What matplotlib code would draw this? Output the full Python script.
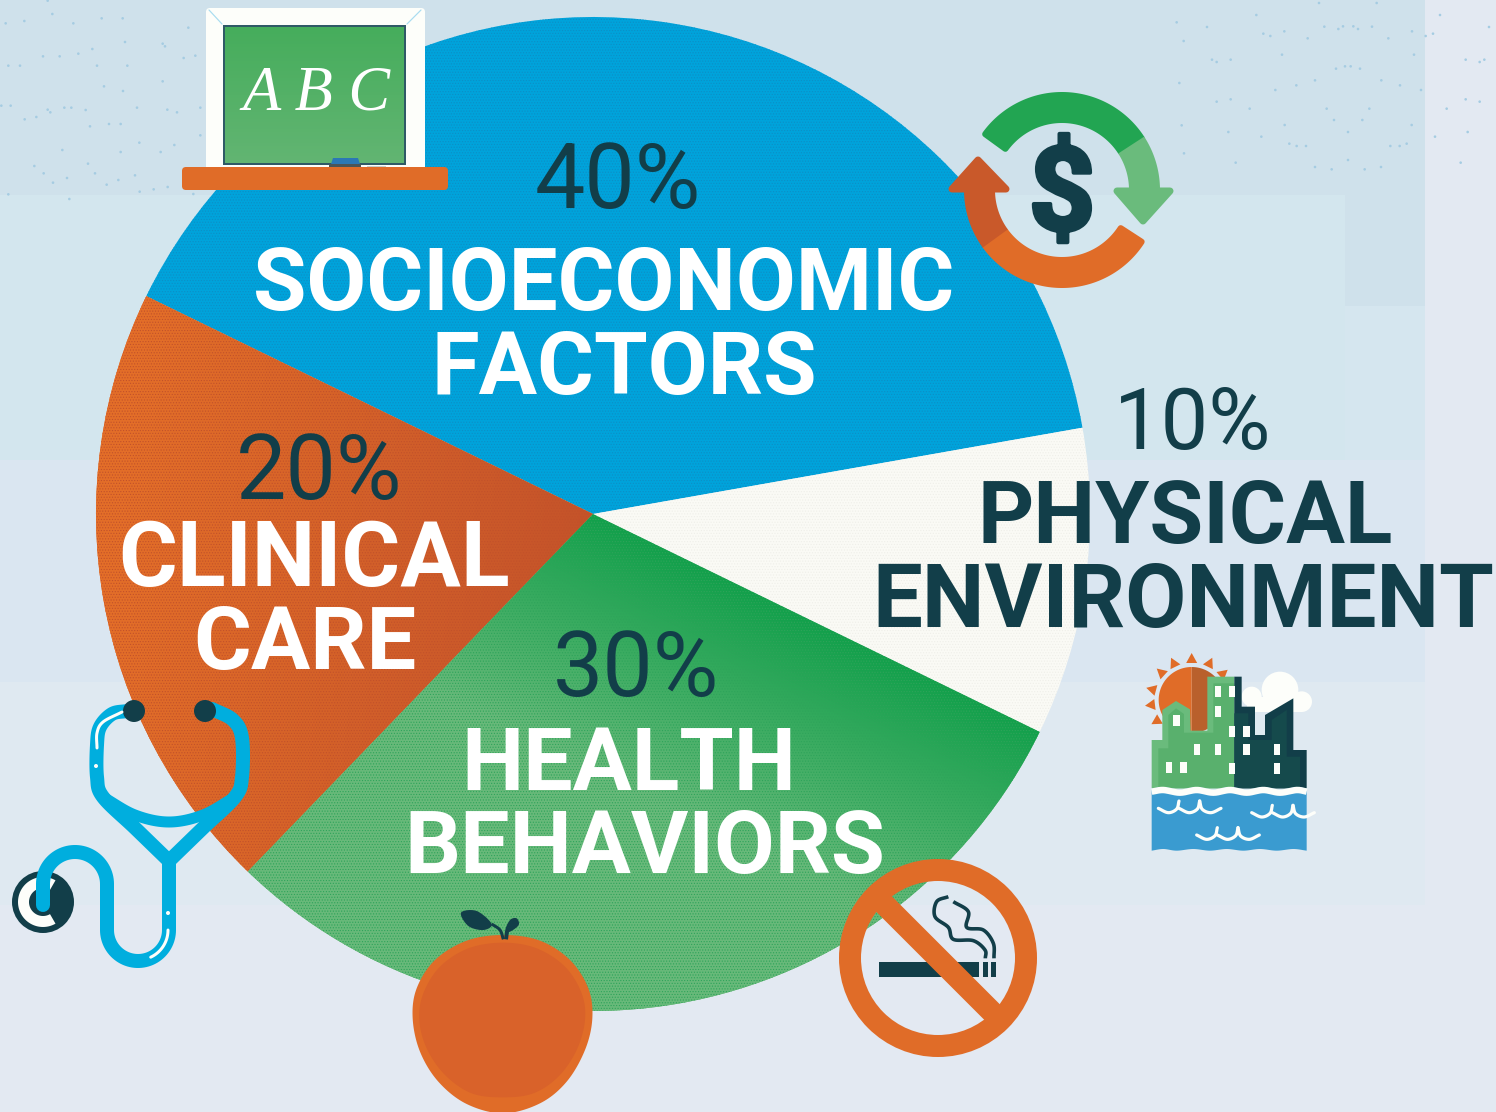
import numpy as np
import matplotlib
matplotlib.use('Agg')
import matplotlib.pyplot as plt
import matplotlib.patheffects as pe
from matplotlib.patches import Circle, FancyBboxPatch, PathPatch, Polygon, Rectangle, Wedge
from matplotlib.path import Path
from matplotlib.transforms import Affine2D

W, H = 1496, 1112

# pie data
shares = [40, 20, 30, 10]
slice_colors = ['#00A3DB', '#E06C28', '#66B878', '#FAFAF5']

pct_labels = ['40%', '20%', '30%', '10%']
name_lines = [['SOCIOECONOMIC', 'FACTORS'], ['CLINICAL', 'CARE'],
              ['HEALTH', 'BEHAVIORS'], ['PHYSICAL', 'ENVIRONMENT']]
name_colors = ['#FFFFFF', '#FFFFFF', '#FFFFFF', '#123E49']
name_sizes = [[62.6, 62.6], [64.8, 63.5], [63.3, 63.3], [63, 63.8]]
pct_sizes = [64.5, 64.5, 64.5, 61]

dots_left = [(143, 2), (157, 42), (17, 70), (73, 63), (220, 70), (305, 55), (368, 55), (565, 83), (375, 126),
             (488, 131), (495, 139), (277, 147), (235, 161), (129, 169), (179, 169), (551, 174), (586, 167),
             (25, 197), (60, 197), (291, 197), (382, 197), (488, 244), (312, 259), (369, 273), (4, 317),
             (32, 317), (143, 329), (151, 337), (193, 323), (214, 323), (257, 330), (411, 323), (502, 329),
             (531, 337), (601, 323), (74, 358), (109, 351), (270, 379), (327, 372), (362, 372), (601, 406),
             (418, 428), (523, 435), (187, 450), (362, 456), (482, 456), (103, 498), (264, 491), (131, 520),
             (285, 520), (405, 526), (201, 534), (159, 548), (355, 540), (320, 554), (503, 561), (461, 568),
             (419, 575), (25, 583), (208, 597), (580, 582)]
dots_right = [(447, 9), (620, 9), (259, 45), (810, 45), (20, 67), (111, 81), (463, 80), (505, 87), (519, 79),
              (550, 79), (564, 87), (606, 80), (957, 81), (280, 101), (301, 108), (343, 94), (726, 94),
              (767, 108), (789, 101), (41, 123), (413, 115), (655, 115), (336, 164), (732, 164), (126, 179),
              (140, 186), (182, 179), (887, 179), (929, 186), (943, 179), (498, 206), (525, 199), (542, 199),
              (570, 206), (28, 249), (379, 256), (435, 241), (634, 241), (690, 256), (316, 270), (753, 270),
              (140, 305), (182, 298), (887, 298), (929, 305), (239, 326), (470, 326), (598, 326), (830, 326),
              (492, 360), (577, 360), (35, 376), (344, 375), (725, 375), (175, 396), (534, 396), (893, 396),
              (274, 410), (795, 410), (358, 431), (380, 438), (408, 438), (661, 438), (689, 438), (710, 431),
              (42, 460), (197, 488), (872, 488), (534, 480), (435, 501), (485, 508), (584, 508), (633, 501)]

DARK = '#123E49'
ORANGE = '#E06C28'
ORANGE_D = '#C9592A'
GREEN = '#6ABB7C'
GREEN_D = '#22A552'
CYAN = '#00AEDE'
PAPER = '#FDFEFA'

fig = plt.figure(figsize=(W / 100, H / 100), dpi=100)
ax = fig.add_axes([0, 0, 1, 1])
# icons and labels are placed in image pixels, y going down
tr = Affine2D().scale(1, -1).translate(0, H) + ax.transData


def px(w):
    return w * 0.72


def smooth(pts, closed=False, n=14):
    pts = np.asarray(pts, dtype=float)
    if closed:
        p = np.vstack([pts[-1], pts, pts[:2]])
    else:
        p = np.vstack([2 * pts[0] - pts[1], pts, 2 * pts[-1] - pts[-2]])
    out = []
    for i in range(1, len(p) - 2):
        for t in np.linspace(0, 1, n, endpoint=False):
            out.append(0.5 * (2 * p[i] + (p[i + 1] - p[i - 1]) * t
                              + (2 * p[i - 1] - 5 * p[i] + 4 * p[i + 1] - p[i + 2]) * t ** 2
                              + (3 * p[i] - p[i - 1] - 3 * p[i + 1] + p[i + 2]) * t ** 3))
    if not closed:
        out.append(p[-2])
    return np.array(out)


def zm(pts, x0, y0):
    # zoom crop coordinates back to image pixels
    return np.asarray(pts, dtype=float) / 3 + [x0, y0]


def fill(pts, color, z=5, pad=0):
    # pad > 0 rounds the corners with a stroke of the same colour
    ax.add_patch(Polygon(pts, closed=True, fc=color, ec=color if pad else 'none', lw=px(pad),
                         joinstyle='round', transform=tr, zorder=z))


def stroke(pts, color, w, z=5, cap='round'):
    ax.add_patch(PathPatch(Path(np.asarray(pts, dtype=float)), fill=False, ec=color, lw=px(w),
                           capstyle=cap, joinstyle='round', transform=tr, zorder=z))


def rect(x0, y0, x1, y1, color, z=5):
    ax.add_patch(Rectangle((x0, y0), x1 - x0, y1 - y0, fc=color, ec='none', transform=tr, zorder=z))


def disc(x, y, r, color, z=5):
    ax.add_patch(Circle((x, y), r, fc=color, ec='none', transform=tr, zorder=z))


def ring(cx, cy, r0, r1, a0, a1, color, z=5, pad=0):
    a = np.radians(np.linspace(a0, a1, 80))
    outer = np.c_[cx + r1 * np.cos(a), cy - r1 * np.sin(a)]
    inner = np.c_[cx + r0 * np.cos(a), cy - r0 * np.sin(a)]
    fill(np.vstack([outer, inner[::-1]]), color, z, pad)


def arc(cx, cy, r, a0, a1):
    a = np.radians(np.linspace(a0, a1, 50))
    return np.c_[cx + r * np.cos(a), cy - r * np.sin(a)]


def gradient(wedge, c0, c1, dx, dy, span):
    # shaded slice, c0 at the pie centre and c1 at distance span along (dx, dy)
    xx, yy = np.meshgrid(np.arange(0, W, 4), np.arange(0, H, 4))
    t = np.clip(((xx - 593) * dx + (yy - 514) * dy) / span, 0, 1)[..., None]
    c0 = np.array(matplotlib.colors.to_rgb(c0))
    c1 = np.array(matplotlib.colors.to_rgb(c1))
    im = ax.imshow(c0 * (1 - t) + c1 * t, extent=(0, W, 0, H), origin='upper',
                   interpolation='bilinear', zorder=1.5)
    im.set_clip_path(wedge)


# background bands
rect(0, 0, W, H, '#E3E9F2', 0)
rect(0, 0, 1425, 195, '#CFE1EB', 0.1)
rect(1345, 195, 1425, 306, '#CFE1EB', 0.1)
rect(0, 195, 1345, 460, '#D3E6EE', 0.1)
rect(1345, 306, 1425, 460, '#D5E6EF', 0.1)
rect(0, 460, 1425, 682, '#DAE6F1', 0.1)
rect(0, 682, 1425, 905, '#DFE9F1', 0.1)
for pts, x0 in [(dots_left, 0), (dots_right, 1170)]:
    for p in zm(pts, x0, 0):
        disc(p[0], p[1], 1.3, '#A5CCE2', 0.2)

# pie
wedges, _ = ax.pie(shares, colors=slice_colors, startangle=10, center=(593, H - 514), radius=497,
                   frame=True, wedgeprops={'linewidth': 0})
for w in wedges:
    w.set_zorder(1)
gradient(wedges[1], '#C4532A', '#E36E28', -0.9, -0.1, 420)
gradient(wedges[2], '#12A04B', '#68B97A', -0.435, 0.9, 230)

# stipple on the slices
plt.rcParams['hatch.linewidth'] = 0.5
for w, hc in zip(wedges, ['#0C8FC6', '#C2512A', '#2EA45A', '#EFEFE9']):
    ax.add_patch(Wedge(w.center, w.r, w.theta1, w.theta2, fc='none', ec=hc, lw=0, hatch='......', zorder=1.7))

# percent and name labels
pct_pos = [(618, 208), (319, 499), (636, 696), (1193, 449)]
name_pos = [[(604, 310), (624, 394)], [(314, 586), (305, 669)],
            [(629, 790), (645, 873)], [(1185, 543), (1183, 627)]]
for i in range(4):
    ax.text(pct_pos[i][0], pct_pos[i][1], pct_labels[i], transform=tr, ha='center', va='baseline',
            family='Roboto', fontsize=pct_sizes[i], color=DARK, zorder=4)
    for line, q, fs in zip(name_lines[i], name_pos[i], name_sizes[i]):
        ax.text(q[0], q[1], line, transform=tr, ha='center', va='baseline', family='Roboto',
                fontweight='bold', fontsize=fs, color=name_colors[i], zorder=4)

# chalkboard
ax.add_patch(FancyBboxPatch((210, 12), 211, 158, boxstyle='round,pad=4', fc=PAPER, ec='none',
                            transform=tr, zorder=5))
rect(223, 25, 406, 165, '#2F5A66', 5)
board = np.linspace(0, 1, 40)[:, None, None] * (np.array(matplotlib.colors.to_rgb('#62B572'))
                                                - matplotlib.colors.to_rgb('#46AD5C')) + matplotlib.colors.to_rgb('#46AD5C')
ax.imshow(board, extent=(225, 404, H - 163, H - 27), origin='upper', zorder=5.2)
ax.text(316, 110, 'A B C', transform=tr, ha='center', va='baseline', family='Liberation Serif',
        fontstyle='italic', fontsize=45, color='white', zorder=6)
stroke([(209, 10), (222, 24)], '#A9DDF0', 1.2, 6)
stroke([(421, 10), (407, 24)], '#A9DDF0', 1.2, 6)
fill([(331, 164), (333, 158), (358, 158), (360, 164)], '#2B78B5', 6)
rect(329, 164, 361, 168, '#4B5557', 6)
rect(367, 166, 386, 168, '#C9CFCB', 6)
ax.add_patch(FancyBboxPatch((186, 171), 258, 15, boxstyle='round,pad=4', fc=ORANGE, ec='none',
                            transform=tr, zorder=6))

# money arrows
cx, cy = 1062, 190
ring(cx, cy, 70, 95, 33, 144, GREEN_D, 5, 6)
ring(cx, cy, 67, 98, 0, 33, GREEN, 5.1)
fill([(1117, 191), (1170, 191), (1143, 221)], GREEN, 5.1, 7)
ring(cx, cy, 70, 95, 216, 327, ORANGE, 5, 6)
ring(cx, cy, 67, 98, 180, 216, ORANGE_D, 5.1)
fill([(952, 189), (1006, 189), (978, 160)], ORANGE_D, 5.1, 7)
ax.text(1062, 198, '$', transform=tr, ha='center', va='center', family='Roboto', fontweight='bold',
        fontsize=84, color=DARK, zorder=6,
        path_effects=[pe.withStroke(linewidth=px(4), foreground=DARK)])

# city
c = lambda pts: zm(pts, 1130, 640)
sun = c([(185, 180)])[0]
ring(sun[0], sun[1], 0, 33, -90, 90, '#B9602C', 5)
ring(sun[0], sun[1], 0, 33, 90, 270, ORANGE, 5)
for a in [90, 64, 40, 116, 138, 165, 187, 211]:
    t = np.radians(a)
    u = np.array([np.cos(t), -np.sin(t)])
    v = np.array([-u[1], u[0]])
    fill([sun + 37 * u + 5.5 * v, sun + 37 * u - 5.5 * v, sun + 47 * u], ORANGE, 5)
for q, r in [((450, 150), 55), ((365, 170), 30), ((515, 185), 31)]:
    p = c([q])[0]
    disc(p[0], p[1], r / 3, PAPER, 5)
fill(c([(350, 170), (515, 170), (515, 215), (350, 215)]), PAPER, 5)
fill(c([(65, 300), (97, 300), (97, 210), (138, 183), (180, 208), (182, 272), (232, 272), (232, 110),
        (313, 110), (313, 445), (65, 445)]), GREEN, 6)
fill(c([(85, 325), (115, 325), (115, 225), (138, 205), (162, 222), (162, 278), (250, 278), (250, 130),
        (313, 130), (313, 445), (85, 445)]), '#59B06D', 6)
fill(c([(313, 110), (335, 110), (335, 200), (375, 200), (375, 285), (405, 285), (405, 225), (490, 175),
        (490, 330), (530, 330), (530, 445), (313, 445)]), DARK, 6)
fill(c([(313, 220), (355, 220), (355, 300), (425, 300), (425, 240), (470, 210), (470, 350), (510, 350),
        (510, 445), (313, 445)]), '#154A4C', 6)
windows = [(254, 137), (296, 137), (254, 198), (296, 258), (340, 258), (130, 225), (192, 312), (254, 312),
           (340, 312), (432, 312), (108, 367), (151, 367), (296, 370), (432, 370)]
for wx, wy in windows:
    p = c([(wx, wy), (wx + 19, wy + 33)])
    rect(p[0][0], p[0][1], p[1][0], p[1][1], PAPER, 7)
wave = c([(65, 446), (100, 441), (150, 449), (200, 441), (250, 449), (300, 441), (350, 449), (400, 441),
          (450, 449), (500, 441), (530, 446)])
low = c([(530, 632), (490, 627), (440, 632), (390, 627), (340, 632), (290, 627), (240, 632), (190, 627),
         (140, 632), (100, 627), (65, 632)])
fill(np.vstack([smooth(wave), smooth(low)]), '#3A9BD0', 6)
stroke(smooth(wave) + [0, 3], PAPER, 6.5, 7, 'butt')
for ox, oy in [(85, 505), (365, 518), (200, 585)]:
    for sx in [0, 62]:
        stroke(smooth(c([(ox + sx, oy), (ox + sx + 30, oy + 13), (ox + sx + 55, oy + 2), (ox + sx + 62, oy - 22)])),
               PAPER, 3.2, 7)
    stroke(smooth(c([(ox + 124, oy - 22), (ox + 132, oy + 3), (ox + 158, oy + 13), (ox + 188, oy)])), PAPER, 3.2, 7)

# stethoscope
left = smooth([(127, 711), (112, 714), (100, 727), (97, 745), (97, 777), (103, 797), (135, 828), (168, 860)])
right = smooth([(212, 709), (233, 720), (242, 738), (242, 777), (235, 797), (203, 828), (170, 860)])
stroke(left, CYAN, 14, 7)
stroke(right, CYAN, 14, 7)
stroke(smooth([(103, 797), (135, 815), (169, 822), (203, 815), (235, 797)]), CYAN, 11, 7)
tube = np.vstack([[(43, 905)], arc(75, 884, 32, 180, 0), [(107, 930)], arc(138, 930, 31, 180, 360), [(169, 860)]])
disc(43, 902, 31, DARK, 6)
ring(43, 902, 14, 25, 60, 300, PAPER, 6.2)
stroke(tube, CYAN, 14, 7)
disc(134, 711, 11, DARK, 8)
disc(205, 711, 11, DARK, 8)
stroke(smooth([(97, 748), (97, 733), (103, 722), (122, 712)]), PAPER, 3, 8)
disc(96, 766, 2, PAPER, 8)
disc(168, 913, 2, PAPER, 8)
stroke(arc(138, 930, 30, 0, -65), PAPER, 3, 8)

# no smoking sign
rect(879, 962, 979, 977, DARK, 7)
rect(983, 962, 988, 977, DARK, 7)
rect(991, 962, 996, 977, DARK, 7)
s = lambda pts: zm(pts, 820, 850)
stroke(smooth(s([(385, 140), (350, 155), (345, 200), (385, 232), (400, 268), (460, 272), (495, 300), (496, 325)])),
       DARK, 3.6, 7, 'butt')
stroke(smooth(s([(400, 155), (445, 185), (440, 232), (490, 240), (520, 280), (522, 325)])), DARK, 3.6, 7, 'butt')
ax.add_patch(Circle((938, 958), 88, fc='none', ec=ORANGE, lw=px(22), transform=tr, zorder=8))
d = np.sqrt(0.5) * 11
fill([(876 - d, 896 + d), (876 + d, 896 - d), (1000 + d, 1020 - d), (1000 - d, 1020 + d)], ORANGE, 8)

# apple
a = lambda pts: zm(pts, 400, 900)
fill(smooth(a([(310, 105), (420, 122), (510, 180), (565, 265), (577, 355), (555, 450), (500, 545), (420, 610),
               (310, 640), (200, 612), (115, 545), (60, 455), (38, 355), (50, 265), (105, 180), (200, 122)]),
            closed=True), ORANGE, 7)
fill(smooth(a([(310, 128), (410, 145), (495, 200), (545, 280), (555, 360), (530, 450), (475, 530), (400, 580),
               (310, 592), (215, 580), (135, 525), (80, 445), (58, 360), (70, 280), (120, 200), (205, 145)]),
            closed=True), '#D9622A', 7)
fill(smooth(a([(183, 38), (230, 33), (275, 72), (250, 90), (205, 78)]), closed=True), DARK, 8)
fill(smooth(a([(318, 90), (330, 60), (350, 55), (356, 75), (330, 95)]), closed=True), DARK, 8)
stroke(smooth(a([(275, 72), (300, 90), (310, 118)])), DARK, 3, 8, 'butt')
stroke(smooth(a([(318, 118), (322, 90), (330, 70)])), DARK, 4, 8, 'butt')

ax.set_xlim(0, W)
ax.set_ylim(0, H)
ax.set_aspect('equal')
ax.axis('off')
fig.savefig('out.png', dpi=100)
